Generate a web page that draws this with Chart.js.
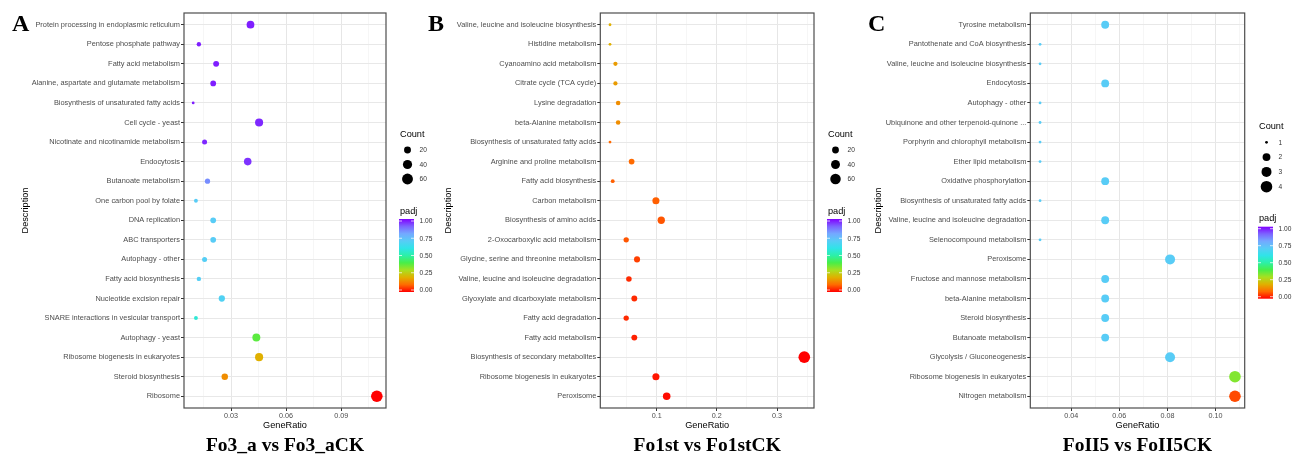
<!DOCTYPE html>
<html>
<head>
<meta charset="utf-8">
<script src="https://cdn.jsdelivr.net/npm/chart.js@4.4.1/dist/chart.umd.min.js"></script>
<style>
  html, body { margin: 0; padding: 0; background: #fff; }
  #wrap { position: relative; width: 1304px; height: 455px; overflow: hidden; }
  canvas { position: absolute; top: 0; }
</style>
</head>
<body>
<div id="wrap">
  <canvas id="chartB" width="445" height="455" style="left:420px;width:445px;height:455px"></canvas>
  <canvas id="chartC" width="439" height="455" style="left:865px;width:439px;height:455px"></canvas>
  <canvas id="chartA" width="440" height="455" style="left:0px;width:440px;height:455px"></canvas>
</div>
<script>
// ---- panel A : Fo3_a vs Fo3_aCK
const aTerms = [
  'Protein processing in endoplasmic reticulum', 'Pentose phosphate pathway', 'Fatty acid metabolism',
  'Alanine, aspartate and glutamate metabolism', 'Biosynthesis of unsaturated fatty acids', 'Cell cycle - yeast',
  'Nicotinate and nicotinamide metabolism', 'Endocytosis', 'Butanoate metabolism', 'One carbon pool by folate',
  'DNA replication', 'ABC transporters', 'Autophagy - other', 'Fatty acid biosynthesis', 'Nucleotide excision repair',
  'SNARE interactions in vesicular transport', 'Autophagy - yeast', 'Ribosome biogenesis in eukaryotes',
  'Steroid biosynthesis', 'Ribosome'
];
const aRatio = [0.0406, 0.0125, 0.0219, 0.0203, 0.0094, 0.0453, 0.0156, 0.0391, 0.0172, 0.0109,
                0.0203, 0.0203, 0.0156, 0.0125, 0.0250, 0.0109, 0.0438, 0.0453, 0.0266, 0.1094];
const aCount = [26, 8, 14, 13, 6, 29, 10, 25, 11, 7, 13, 13, 10, 8, 16, 7, 28, 29, 17, 70];
const aPadj  = [0.97, 0.97, 0.97, 0.97, 0.97, 0.96, 0.96, 0.95, 0.84, 0.70,
                0.70, 0.70, 0.69, 0.69, 0.68, 0.57, 0.38, 0.20, 0.15, 0.00];
const aTicks = [0.03, 0.06, 0.09];
const aTickLabels = ['0.03', '0.06', '0.09'];
const aMinorTicks = [0.015, 0.045, 0.075, 0.105];
const aSizeBreaks = [20, 40, 60];

// ---- panel B : Fo1st vs Fo1stCK
const bTerms = [
  'Valine, leucine and isoleucine biosynthesis', 'Histidine metabolism', 'Cyanoamino acid metabolism',
  'Citrate cycle (TCA cycle)', 'Lysine degradation', 'beta-Alanine metabolism',
  'Biosynthesis of unsaturated fatty acids', 'Arginine and proline metabolism', 'Fatty acid biosynthesis',
  'Carbon metabolism', 'Biosynthesis of amino acids', '2-Oxocarboxylic acid metabolism',
  'Glycine, serine and threonine metabolism', 'Valine, leucine and isoleucine degradation',
  'Glyoxylate and dicarboxylate metabolism', 'Fatty acid degradation', 'Fatty acid metabolism',
  'Biosynthesis of secondary metabolites', 'Ribosome biogenesis in eukaryotes', 'Peroxisome'
];
const bRatio = [0.0224, 0.0224, 0.0314, 0.0314, 0.0359, 0.0359, 0.0224, 0.0583, 0.0269, 0.0987,
                0.1076, 0.0493, 0.0673, 0.0538, 0.0628, 0.0493, 0.0628, 0.3453, 0.0987, 0.1166];
const bCount = [5, 5, 7, 7, 8, 8, 5, 13, 6, 22, 24, 11, 15, 12, 14, 11, 14, 77, 22, 26];
const bPadj  = [0.20, 0.20, 0.17, 0.17, 0.15, 0.15, 0.10, 0.10, 0.09, 0.09,
                0.08, 0.08, 0.06, 0.04, 0.04, 0.04, 0.03, 0.00, 0.02, 0.01];
const bTicks = [0.1, 0.2, 0.3];
const bTickLabels = ['0.1', '0.2', '0.3'];
const bMinorTicks = [0.05, 0.15, 0.25, 0.35];
const bSizeBreaks = [20, 40, 60];

// ---- panel C : FoII5 vs FoII5CK
const cTerms = [
  'Tyrosine metabolism', 'Pantothenate and CoA biosynthesis', 'Valine, leucine and isoleucine biosynthesis',
  'Endocytosis', 'Autophagy - other', 'Ubiquinone and other terpenoid-quinone ...',
  'Porphyrin and chlorophyll metabolism', 'Ether lipid metabolism', 'Oxidative phosphorylation',
  'Biosynthesis of unsaturated fatty acids', 'Valine, leucine and isoleucine degradation',
  'Selenocompound metabolism', 'Peroxisome', 'Fructose and mannose metabolism', 'beta-Alanine metabolism',
  'Steroid biosynthesis', 'Butanoate metabolism', 'Glycolysis / Gluconeogenesis',
  'Ribosome biogenesis in eukaryotes', 'Nitrogen metabolism'
];
const cRatio = [0.0541, 0.0270, 0.0270, 0.0541, 0.0270, 0.0270, 0.0270, 0.0270, 0.0541, 0.0270,
                0.0541, 0.0270, 0.0811, 0.0541, 0.0541, 0.0541, 0.0541, 0.0811, 0.1081, 0.1081];
const cCount = [2, 1, 1, 2, 1, 1, 1, 1, 2, 1, 2, 1, 3, 2, 2, 2, 2, 3, 4, 4];
const cPadj  = [0.70, 0.70, 0.70, 0.70, 0.70, 0.70, 0.70, 0.70, 0.70, 0.70,
                0.70, 0.70, 0.70, 0.70, 0.70, 0.70, 0.70, 0.70, 0.34, 0.07];
const cTicks = [0.04, 0.06, 0.08, 0.10];
const cTickLabels = ['0.04', '0.06', '0.08', '0.10'];
const cMinorTicks = [0.03, 0.05, 0.07, 0.09, 0.11];
const cSizeBreaks = [1, 2, 3, 4];

const padjTicks = [0, 0.25, 0.5, 0.75, 1];
const padjTickLabels = ['0.00', '0.25', '0.50', '0.75', '1.00'];

// rainbow scale used for padj
const rainbowStops = [
  [0, '#ff0000'], [0.1, '#ff6a00'], [0.2, '#e0b000'], [0.3, '#a8e020'], [0.4, '#48ee48'],
  [0.5, '#2cf0a8'], [0.6, '#30e4e8'], [0.7, '#58ccf6'], [0.8, '#74a8ff'], [0.9, '#7c64ff'], [1, '#8000ff']
];
const SANS = '"Liberation Sans", Arial, sans-serif';
const SERIF = '"Liberation Serif", "Times New Roman", serif';

function hexRgb(h) {
  return [1, 3, 5].map(i => parseInt(h.substr(i, 2), 16));
}

function padjColor(v) {
  for (let i = 1; i < rainbowStops.length; i++) {
    const [p1, c1] = rainbowStops[i];
    if (v <= p1) {
      const [p0, c0] = rainbowStops[i - 1];
      const t = (v - p0) / (p1 - p0);
      const a = hexRgb(c0), b = hexRgb(c1);
      const m = a.map((x, k) => Math.round(x + (b[k] - x) * t));
      return 'rgb(' + m.join(',') + ')';
    }
  }
  return rainbowStops[rainbowStops.length - 1][1];
}

// point radius from count, scaled on the panel's own count range (area style)
function sizeRadius(count, counts) {
  const lo = Math.min(...counts), hi = Math.max(...counts);
  return 1.4 + 4.4 * Math.sqrt((count - lo) / (hi - lo));
}

// box, panel letter, big title and the two legends
const panelDecor = {
  id: 'panelDecor',
  afterDraw(chart, args, o) {
    const ctx = chart.ctx, a = chart.chartArea;
    ctx.save();
    ctx.strokeStyle = '#4d4d4d';
    ctx.lineWidth = 1.2;
    ctx.strokeRect(a.left, a.top, a.right - a.left, a.bottom - a.top);

    ctx.fillStyle = '#000';
    ctx.textAlign = 'left';
    ctx.textBaseline = 'alphabetic';
    ctx.font = 'bold 24px ' + SERIF;
    ctx.fillText(o.letter, o.letterX, 31);

    ctx.textAlign = 'center';
    ctx.font = 'bold 19.5px ' + SERIF;
    ctx.fillText(o.title, (a.left + a.right) / 2, 450.5);

    // Count legend
    ctx.textAlign = 'left';
    ctx.textBaseline = 'middle';
    ctx.font = '9.2px ' + SANS;
    ctx.fillText('Count', o.legX, o.countY);
    o.breaks.forEach((b, i) => {
      const y = o.dotY0 + i * o.dotStep;
      ctx.fillStyle = '#000';
      ctx.beginPath();
      ctx.arc(o.legX + 7.5, y, sizeRadius(b, o.counts), 0, Math.PI * 2);
      ctx.fill();
      ctx.fillStyle = '#333';
      ctx.font = '6.6px ' + SANS;
      ctx.fillText(String(b), o.legX + 19.5, y + 0.5);
    });

    // padj colour bar
    ctx.fillStyle = '#000';
    ctx.font = '9.2px ' + SANS;
    ctx.fillText('padj', o.legX, o.padjY);
    const bx = o.legX - 1, bw = 15, top = o.barTop, bot = o.barTop + o.barH;
    const g = ctx.createLinearGradient(0, bot, 0, top);
    rainbowStops.forEach(([p, c]) => g.addColorStop(p, c));
    ctx.fillStyle = g;
    ctx.fillRect(bx, top, bw, o.barH);
    ctx.font = '6.6px ' + SANS;
    padjTicks.forEach((v, i) => {
      const y = bot - 2 - v * (o.barH - 4);
      ctx.strokeStyle = 'rgba(255,255,255,0.9)';
      ctx.lineWidth = 0.8;
      ctx.beginPath();
      ctx.moveTo(bx, y); ctx.lineTo(bx + 3, y);
      ctx.moveTo(bx + bw - 3, y); ctx.lineTo(bx + bw, y);
      ctx.stroke();
      ctx.fillStyle = '#333';
      ctx.fillText(padjTickLabels[i], o.legX + 19.5, y + 0.5);
    });
    ctx.restore();
  }
};

function makePanel(id, terms, ratio, count, padj, majors, majorLabels, minors, deco) {
  const lo = Math.min(...ratio), hi = Math.max(...ratio), span = hi - lo;
  const n = terms.length;
  const isMajor = v => majors.indexOf(v) >= 0;

  const config = {
    type: 'bubble',
    data: {
      datasets: [{
        data: terms.map((t, i) => ({ x: ratio[i], y: i, r: sizeRadius(count[i], count) })),
        backgroundColor: padj.map(padjColor),
        borderWidth: 0,
        hoverBorderWidth: 0,
        clip: false
      }]
    },
    options: {
      responsive: false,
      animation: false,
      events: [],
      layout: { padding: { left: 0, top: 13, right: deco.padRight, bottom: 0 } },
      plugins: {
        legend: { display: false },
        tooltip: { enabled: false },
        panelDecor: deco
      },
      scales: {
        x: {
          type: 'linear',
          min: lo - 0.05 * span,
          max: hi + 0.05 * span,
          afterBuildTicks: s => {
            s.ticks = majors.concat(minors).sort((p, q) => p - q).map(v => ({ value: v }));
          },
          afterFit: s => { s.height = 47; },
          ticks: {
            autoSkip: false, maxRotation: 0, padding: 1, color: '#4d4d4d',
            font: { family: SANS, size: 7.2 },
            callback: v => { const k = majors.indexOf(v); return k < 0 ? '' : majorLabels[k]; }
          },
          grid: {
            color: c => isMajor(c.tick && c.tick.value) ? '#e6e6e6' : '#f2f2f2',
            lineWidth: c => isMajor(c.tick && c.tick.value) ? 1 : 0.7,
            tickLength: 3,
            tickWidth: 1,
            tickColor: c => isMajor(c.tick && c.tick.value) ? '#333' : 'rgba(0,0,0,0)'
          },
          border: { display: false },
          title: {
            display: true, text: 'GeneRatio', color: '#000',
            font: { family: SANS, size: 9.2 }, padding: { top: 0, bottom: 24 }
          }
        },
        y: {
          type: 'linear',
          reverse: true,
          min: -0.6,
          max: n - 0.4,
          afterBuildTicks: s => { s.ticks = terms.map((t, i) => ({ value: i })); },
          afterFit: s => { s.width = deco.plotLeft; },
          ticks: {
            autoSkip: false, padding: 1, color: '#4d4d4d',
            font: { family: SANS, size: 7.4 },
            callback: v => terms[v]
          },
          grid: { color: '#e8e8e8', lineWidth: 1, tickLength: 3, tickWidth: 1, tickColor: '#333' },
          border: { display: false },
          title: {
            display: true, text: 'Description', color: '#000',
            font: { family: SANS, size: 9.2 }, padding: { top: deco.descPad, bottom: 0 }
          }
        }
      }
    },
    plugins: [panelDecor]
  };
  return new Chart(document.getElementById(id).getContext('2d'), config);
}

makePanel('chartA', aTerms, aRatio, aCount, aPadj, aTicks, aTickLabels, aMinorTicks, {
  letter: 'A', letterX: 12, title: 'Fo3_a vs Fo3_aCK',
  plotLeft: 184, padRight: 54, descPad: 20.3,
  legX: 400, countY: 134.5, dotY0: 150, dotStep: 14.5, padjY: 211, barTop: 219, barH: 73,
  breaks: aSizeBreaks, counts: aCount
});
makePanel('chartB', bTerms, bRatio, bCount, bPadj, bTicks, bTickLabels, bMinorTicks, {
  letter: 'B', letterX: 8, title: 'Fo1st vs Fo1stCK',
  plotLeft: 180.3, padRight: 51, descPad: 23.1,
  legX: 408, countY: 134.5, dotY0: 150, dotStep: 14.5, padjY: 211, barTop: 219, barH: 73,
  breaks: bSizeBreaks, counts: bCount
});
makePanel('chartC', cTerms, cRatio, cCount, cPadj, cTicks, cTickLabels, cMinorTicks, {
  letter: 'C', letterX: 3, title: 'FoII5 vs FoII5CK',
  plotLeft: 165.3, padRight: 59.3, descPad: 8,
  legX: 394, countY: 126.5, dotY0: 142.3, dotStep: 14.8, padjY: 218.5, barTop: 226.7, barH: 72,
  breaks: cSizeBreaks, counts: cCount
});
</script>
</body>
</html>
